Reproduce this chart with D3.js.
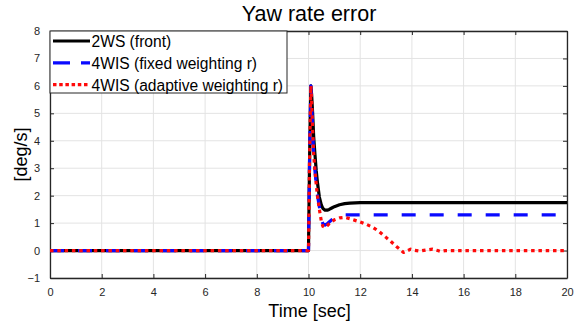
<!DOCTYPE html>
<html>
<head>
<meta charset="utf-8">
<script src="https://cdn.jsdelivr.net/npm/d3@7/dist/d3.min.js"></script>
<style>
  html, body { margin: 0; padding: 0; background: #fff; }
  svg { display: block; font-family: "Liberation Sans", Arial, sans-serif; }
</style>
</head>
<body>
<svg id="chart" width="582" height="325"></svg>
<script>
// Time samples [sec]
const time = [0, 10, 10.04, 10.09, 10.12, 10.16, 10.2, 10.25, 10.3, 10.35, 10.42, 10.5, 10.56, 10.64, 10.72,
              10.8, 10.9, 11.0, 11.2, 11.4, 11.6, 11.8, 12.0, 12.25, 12.5, 12.75, 13.0, 13.2, 13.4, 13.55,
              13.67, 13.8, 13.95, 14.1, 14.3, 14.55, 14.8, 15.0, 15.1, 15.3, 15.6, 20];

// Yaw rate error [deg/s] for each steering configuration
const yaw2WS = [0, 0, 3.2, 6.0, 5.7, 5.0, 4.15, 3.5, 2.9, 2.45, 1.95, 1.65, 1.53, 1.47, 1.47,
                1.5, 1.55, 1.6, 1.67, 1.71, 1.73, 1.74, 1.75, 1.75, 1.75, 1.75, 1.75, 1.75, 1.75, 1.75,
                1.75, 1.75, 1.75, 1.75, 1.75, 1.75, 1.75, 1.75, 1.75, 1.75, 1.75, 1.75];
const yawFixed = [0, 0, 3.2, 6.0, 5.5, 4.4, 3.5, 2.9, 2.4, 2.0, 1.6, 1.15, 0.97, 0.93, 0.97,
                  1.04, 1.12, 1.19, 1.27, 1.3, 1.3, 1.3, 1.3, 1.3, 1.3, 1.3, 1.3, 1.3, 1.3, 1.3,
                  1.3, 1.3, 1.3, 1.3, 1.3, 1.3, 1.3, 1.3, 1.3, 1.3, 1.3, 1.3];
const yawAdaptive = [0, 0, 3.2, 6.0, 5.5, 4.4, 3.5, 2.9, 2.4, 1.95, 1.5, 1.05, 0.88, 0.84, 0.9,
                     0.98, 1.06, 1.12, 1.19, 1.21, 1.16, 1.1, 1.04, 0.95, 0.84, 0.68, 0.48, 0.32, 0.15, 0.04,
                     -0.07, -0.02, 0.05, 0.01, -0.02, 0.02, 0.05, 0.0, -0.03, 0.0, 0.0, 0.0];

const seriesNames = ["2WS (front)", "4WIS (fixed weighting r)", "4WIS (adaptive weighting r)"];
const xTicks = [0, 2, 4, 6, 8, 10, 12, 14, 16, 18, 20];
const yTicks = [-1, 0, 1, 2, 3, 4, 5, 6, 7, 8];

const svg = d3.select("#chart");
const m = { left: 50, right: 15, top: 31, bottom: 47 };
const W = 582, H = 325;
const x = d3.scaleLinear().domain([0, 20]).range([m.left, W - m.right]);
const y = d3.scaleLinear().domain([-1, 8]).range([H - m.bottom, m.top]);

const axisColor = "#262626";
const gridColor = "#e3e3e3";

// grid
svg.append("g").selectAll("line").data(xTicks).join("line")
  .attr("x1", d => x(d)).attr("x2", d => x(d))
  .attr("y1", y(-1)).attr("y2", y(8))
  .attr("stroke", gridColor).attr("stroke-width", 1);
svg.append("g").selectAll("line").data(yTicks).join("line")
  .attr("x1", x(0)).attr("x2", x(20))
  .attr("y1", d => y(d)).attr("y2", d => y(d))
  .attr("stroke", gridColor).attr("stroke-width", 1);

// axes with inward ticks on all four sides
const axisBottomG = svg.append("g").attr("transform", `translate(0,${y(-1)})`)
  .call(d3.axisBottom(x).tickValues(xTicks).tickSizeInner(-4).tickSizeOuter(0).tickPadding(10));
const axisTopG = svg.append("g").attr("transform", `translate(0,${y(8)})`)
  .call(d3.axisTop(x).tickValues(xTicks).tickSizeInner(-4).tickSizeOuter(0).tickFormat(""));
const axisLeftG = svg.append("g").attr("transform", `translate(${x(0)},0)`)
  .call(d3.axisLeft(y).tickValues(yTicks).tickSizeInner(-4).tickSizeOuter(0).tickPadding(10));
const axisRightG = svg.append("g").attr("transform", `translate(${x(20)},0)`)
  .call(d3.axisRight(y).tickValues(yTicks).tickSizeInner(-4).tickSizeOuter(0).tickFormat(""));
[axisBottomG, axisTopG, axisLeftG, axisRightG].forEach(g => {
  g.select(".domain").attr("stroke", axisColor).attr("stroke-width", 1.3);
  g.selectAll(".tick line").attr("stroke", axisColor);
  g.selectAll(".tick text").attr("fill", axisColor).attr("font-size", 11)
    .attr("font-family", "Liberation Sans, Arial, sans-serif");
});

// series lines
const line = d3.line().x((d, i) => x(time[i])).y(d => y(d));
const styles = [
  { data: yaw2WS, color: "#000000", dash: null },
  { data: yawFixed, color: "#0a0aff", dash: "14,14" },
  { data: yawAdaptive, color: "#ff0a0a", dash: "3.5,3.8" }
];
svg.append("clipPath").attr("id", "plotclip").append("rect")
  .attr("x", x(0)).attr("y", y(8)).attr("width", x(20) - x(0)).attr("height", y(-1) - y(8));
styles.forEach(s => {
  svg.append("path").datum(s.data)
    .attr("clip-path", "url(#plotclip)")
    .attr("d", line)
    .attr("fill", "none")
    .attr("stroke", s.color)
    .attr("stroke-width", 3.2)
    .attr("stroke-linejoin", "round")
    .attr("stroke-dasharray", s.dash);
});

// legend
const lg = svg.append("g");
lg.append("rect").attr("x", x(0)).attr("y", y(8)).attr("width", 237).attr("height", 62)
  .attr("fill", "#fff").attr("stroke", axisColor).attr("stroke-width", 1);
seriesNames.forEach((name, i) => {
  const ly = y(8) + 10 + i * 21.8;
  lg.append("line").attr("x1", x(0) + 3).attr("x2", x(0) + 40)
    .attr("y1", ly).attr("y2", ly)
    .attr("stroke", styles[i].color).attr("stroke-width", 3.2)
    .attr("stroke-dasharray", i === 1 ? "17,11" : (i === 2 ? "3.5,2.7" : null));
  lg.append("text").attr("x", x(0) + 41.5).attr("y", ly + 6)
    .attr("font-size", 15.6).attr("fill", "#000").text(name);
});

// title and axis labels
svg.append("text").attr("x", 309).attr("y", 21)
  .attr("text-anchor", "middle").attr("font-size", 21.5).attr("fill", "#000").text("Yaw rate error");
svg.append("text").attr("x", 309.5).attr("y", 317)
  .attr("text-anchor", "middle").attr("font-size", 18).attr("fill", "#000").text("Time [sec]");
svg.append("text").attr("transform", `translate(27,${(y(-1) + y(8)) / 2}) rotate(-90)`)
  .attr("text-anchor", "middle").attr("font-size", 18).attr("fill", "#000").text("[deg/s]");
</script>
</body>
</html>
